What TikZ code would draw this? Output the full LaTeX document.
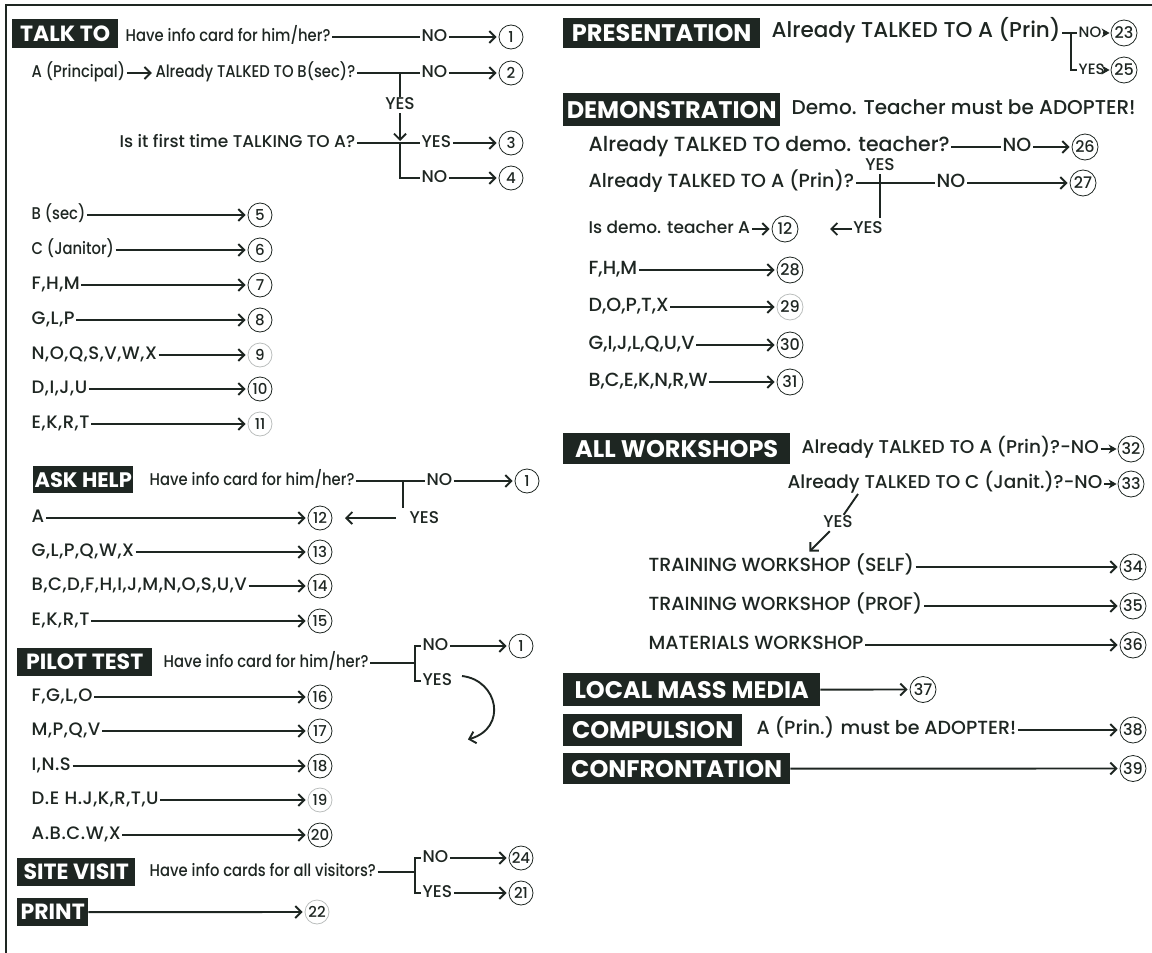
\documentclass[tikz,border=0pt]{standalone}
\usepackage{fontspec}
\setmainfont{Poppins}[UprightFont={* Medium}, BoldFont={* Bold}]
\newfontfamily\condf{Poppins}[UprightFont={* Medium}, FakeStretch=0.87]
\newfontfamily\lstf{Poppins}[UprightFont={* Medium}, LetterSpace=3]
\usetikzlibrary{arrows.meta}
\definecolor{ink}{RGB}{30,38,34}
\newcommand\fsQ{\condf\fontsize{17}{17}\selectfont}
\newcommand\fsL{\fontsize{17}{17}\selectfont}
\newcommand\fsLs{\lstf\fontsize{18}{18}\selectfont}
\newcommand\fsR{\fontsize{19}{19}\selectfont}
\newcommand\fsN{\fontsize{15}{15}\selectfont}
\newcommand\fsNR{\fontsize{16}{16}\selectfont}
\newcommand\fsHL{\fontsize{22}{22}\selectfont\bfseries}
\newcommand\fsHR{\fontsize{24}{24}\selectfont\bfseries}
\begin{document}
\begin{tikzpicture}[x=1pt,y=-1pt,
  txt/.style={anchor=west, inner xsep=1.5pt, inner ysep=0pt, text height=12pt, text depth=4pt, text=ink, font=\fsQ},
  lab/.style={txt, font=\fsL},
  lst/.style={txt, font=\fsLs},
  rtx/.style={anchor=west, inner xsep=1.5pt, inner ysep=0pt, text height=13pt, text depth=4pt, text=ink, font=\fsR},
  num/.style={circle, draw=ink, line width=0.8pt, minimum size=24pt, inner sep=0pt, text=ink, font=\fsN},
  numfaint/.style={num, draw=ink!30},
  numR/.style={num, minimum size=26pt, font=\fsNR},
  numRfaint/.style={numR, draw=ink!30},
  hdrL/.style={fill=ink, text=white, font=\fsHL, inner sep=0pt, anchor=north west},
  hdrR/.style={fill=ink, text=white, font=\fsHR, inner sep=0pt, anchor=north west},
  ln/.style={draw=ink, line width=1.9pt},
  arr/.style={ln, shorten >=2pt, -{Straight Barb[length=6pt,width=12pt]}},
  farr/.style={ln, shorten >=1pt, -{Stealth[length=8pt,width=9pt]}}
]
\useasboundingbox (0,0) rectangle (1152,953);
\draw[ink, line width=2.8pt] (6,953) -- (6,5) -- (1152,5);

% ---------------- TALK TO ----------------
\node[hdrL, minimum width=106pt, minimum height=29pt] (hTalk) at (12,19) {TALK TO};
\node[txt] (tq1) at (124,37) {Have info card for him/her?};
\node[lab] (tno1) at (420,37) {NO};
\node[num] (n1a) at (511,37) {1};
\draw[ln] (tq1) -- (tno1);
\draw[arr] (tno1) -- (n1a);

\node[txt] (tA) at (30,73) {A (Principal)};
\node[txt] (tq2) at ([xshift=27pt]tA.east) {Already TALKED TO B(sec)?};
\draw[arr] (tA) -- (tq2);
\coordinate (j2) at (400,73);
\node[lab] (tno2) at (420,73) {NO};
\node[num] (n2) at (511,73) {2};
\draw[ln] (tq2) -- (tno2);
\draw[arr] (tno2) -- (n2);
\node[lab, anchor=center] (tyes2) at (400,105) {YES};
\coordinate (j3) at (400,143);
\draw[ln] (j2) -- (tyes2);
\draw[arr] (tyes2) -- (j3);

\node[lab] (tq3) at (118,143) {Is it first time TALKING TO A?};
\node[lab] (tyes3) at (420,143) {YES};
\node[num] (n3) at (511,143) {3};
\draw[ln] (tq3) -- (tyes3);
\draw[arr] (tyes3) -- (n3);
\node[lab] (tno4) at (420,178) {NO};
\node[num] (n4) at (511,178) {4};
\draw[ln] (j3) |- (tno4);
\draw[arr] (tno4) -- (n4);

\foreach \t/\n/\y/\s/\f [count=\i] in {{B (sec)}/5/215/num/txt, {C (Janitor)}/6/250/num/txt, {F,H,M}/7/285/num/lst, {G,L,P}/8/320/num/lst, {N,O,Q,S,V,W,X}/9/355/numfaint/lst, {D,I,J,U}/10/389/num/lst, {E,K,R,T}/11/424/numfaint/lst}{
  \node[\f] (ta\i) at (30,\y) {\t};
  \node[\s] (ca\i) at (260,\y) {\n};
  \draw[arr] (ta\i) -- (ca\i);
}

% ---------------- ASK HELP ----------------
\node[hdrL, font=\fontsize{21}{21}\selectfont\bfseries, minimum width=100pt, minimum height=27pt] (hAsk) at (33,466) {ASK HELP};
\node[txt] (aq) at (148,481) {Have info card for him/her?};
\coordinate (aj) at (403,481);
\node[lab] (ano) at (425,481) {NO};
\node[num] (an1) at (527,481) {1};
\draw[ln] (aq) -- (ano);
\draw[arr] (ano) -- (an1);
\coordinate (ajb) at (403,508);
\draw[ln] (aj) -- (ajb);
\node[lab] (ayes) at (408,519) {YES};
\coordinate (aarr) at (396,518);
\coordinate (atip) at (343,518);
\draw[arr] (aarr) -- (atip);

\foreach \t/\n/\y [count=\i] in {A/12/518, {G,L,P,Q,W,X}/13/552, {B,C,D,F,H,I,J,M,N,O,S,U,V}/14/586, {E,K,R,T}/15/621}{
  \node[lst] (tb\i) at (30,\y) {\t};
  \node[num] (cb\i) at (320,\y) {\n};
  \draw[arr] (tb\i) -- (cb\i);
}

% ---------------- PILOT TEST ----------------
\node[hdrL, minimum width=135pt, minimum height=28pt] (hPilot) at (17,648) {PILOT TEST};
\node[txt] (pq) at (162,663) {Have info card for him/her?};
\coordinate (pb) at (415,663);
\node[lab] (pno) at (421,646) {NO};
\node[lab] (pyes) at (421,681) {YES};
\node[num] (pn1) at (521,646) {1};
\draw[ln] (pq) -- (pb);
\draw[ln] (pno.west) -| (pb) |- (pyes.west);
\draw[arr] (pno) -- (pn1);
\coordinate (pcs) at (462,676);
\coordinate (pce) at (466,740);
\draw[arr] (pcs) .. controls (498,680) and (508,728) .. (pce);

\foreach \t/\n/\y/\s [count=\i] in {{F,G,L,O}/16/697/num, {M,P,Q,V}/17/731/num, {I,N.S}/18/766/num, {D.E H.J,K,R,T,U}/19/800/numfaint, {A.B.C.W,X}/20/835/num}{
  \node[lst] (tc\i) at (30,\y) {\t};
  \node[\s] (cc\i) at (320,\y) {\n};
  \draw[arr] (tc\i) -- (cc\i);
}

% ---------------- SITE VISIT ----------------
\node[hdrL, minimum width=118pt, minimum height=28pt] (hSite) at (17,858) {SITE VISIT};
\node[txt] (sq) at (148,872) {Have info cards for all visitors?};
\coordinate (sb) at (415,872);
\node[lab] (sno) at (421,858) {NO};
\node[lab] (syes) at (421,893) {YES};
\node[num] (n24) at (521,858) {24};
\node[num] (n21) at (521,893) {21};
\draw[ln] (sq) -- (sb);
\draw[ln] (sno.west) -| (sb) |- (syes.west);
\draw[arr] (sno) -- (n24);
\draw[arr] (syes) -- (n21);

% ---------------- PRINT ----------------
\node[hdrL, minimum width=71pt, minimum height=28pt] (hPrint) at (17,898) {PRINT};
\node[numfaint] (n22) at (317,912) {22};
\draw[arr] (hPrint) -- (n22);

% ---------------- PRESENTATION ----------------
\node[hdrR, minimum width=197pt, minimum height=30pt] (hPres) at (563,18) {PRESENTATION};
\node[rtx, font=\fontsize{21.5}{21.5}\selectfont] (pr1) at (770,33) {Already TALKED TO A (Prin)};
\coordinate (prj) at (1071,33);
\node[txt, font=\fontsize{15}{15}\selectfont] (prno) at (1077,33) {NO};
\node[txt, font=\fontsize{15}{15}\selectfont] (pryes) at (1077,70) {YES};
\node[numR] (n23) at (1124,33) {23};
\node[numR] (n25) at (1124,70) {25};
\draw[ln] (pr1) -- (prno);
\draw[ln] (prj) |- (pryes);
\draw[farr] (prno) -- (n23);
\draw[farr] (pryes) -- (n25);

% ---------------- DEMONSTRATION ----------------
\node[hdrR, minimum width=217pt, minimum height=33pt] (hDemo) at (563,93) {DEMONSTRATION};
\node[rtx, font=\fontsize{20}{20}\selectfont] (dnote) at (790,110) {Demo. Teacher must be ADOPTER!};
\node[rtx, font=\fontsize{20.5}{20.5}\selectfont] (d26) at (587,147) {Already TALKED TO demo. teacher?};
\node[rtx] (dno26) at (1001,147) {NO};
\node[numR] (n26) at (1085,147) {26};
\draw[ln] (d26) -- (dno26);
\draw[arr] (dno26) -- (n26);
\node[rtx] (d27) at (587,183) {Already TALKED TO A (Prin)?};
\node[rtx] (dno27) at (935,183) {NO};
\node[numR] (n27) at (1083,183) {27};
\draw[ln] (d27) -- (dno27);
\draw[arr] (dno27) -- (n27);
\node[lab, anchor=center] (dyesT) at (880,166) {YES};
\coordinate (djb) at (880,218);
\draw[ln] (dyesT) -- (djb);
\node[rtx, font=\fontsize{17}{17}\selectfont] (d12) at (587,229) {Is demo. teacher A};
\node[numR] (n12d) at (785,229) {12};
\draw[arr] (d12) -- (n12d);
\node[lab, anchor=center] (dyesB) at (868,229) {YES};
\coordinate (dtip) at (828,229);
\draw[arr] (dyesB) -- (dtip);

\foreach \t/\n/\y/\s [count=\i] in {{F,H,M}/28/270/numR, {D,O,P,T,X}/29/307/numRfaint, {G,I,J,L,Q,U,V}/30/345/numR, {B,C,E,K,N,R,W}/31/382/numR}{
  \node[rtx] (td\i) at (587,\y) {\t};
  \node[\s] (cd\i) at (790,\y) {\n};
  \draw[arr] (td\i) -- (cd\i);
}

% ---------------- ALL WORKSHOPS ----------------
\node[hdrR, minimum width=227pt, minimum height=31pt] (hAll) at (563,433) {ALL WORKSHOPS};
\node[rtx, font=\fontsize{18.5}{18.5}\selectfont] (w1) at (800,449) {Already TALKED TO A (Prin)?-NO};
\node[numR] (n32) at (1131,449) {32};
\draw[farr] (w1) -- (n32);
\node[rtx, font=\fontsize{18.5}{18.5}\selectfont, anchor=east] (w2) at (1104,484) {Already TALKED TO C (Janit.)?-NO};
\node[numR] (n33) at (1131,484) {33};
\draw[farr] (w2) -- (n33);
\coordinate (wd1) at (858,494);
\node[lab, anchor=center] (wy) at (838,523) {YES};
\coordinate (wd2) at (808,553);
\draw[ln] (wd1) -- (wy);
\draw[arr] (wy) -- (wd2);

\node[rtx] (tw1) at (647,567) {TRAINING WORKSHOP (SELF)};
\node[numR] (n34) at (1133,567) {34};
\draw[arr] (tw1) -- (n34);
\node[rtx] (tw2) at (647,606) {TRAINING WORKSHOP (PROF)};
\node[numR] (n35) at (1133,606) {35};
\draw[arr] (tw2) -- (n35);
\node[rtx] (tw3) at (647,645) {MATERIALS WORKSHOP};
\node[numR] (n36) at (1133,645) {36};
\draw[arr] (tw3) -- (n36);

% ---------------- LOCAL MASS MEDIA / COMPULSION / CONFRONTATION ----------------
\node[hdrR, minimum width=257pt, minimum height=33pt] (hLmm) at (563,673) {LOCAL MASS MEDIA};
\node[numR] (n37) at (923,689.5) {37};
\draw[arr] (hLmm) -- (n37);
\node[hdrR, minimum width=179pt, minimum height=32pt] (hComp) at (563,714) {COMPULSION};
\node[rtx] (cq) at (755,730) {A (Prin.) must be ADOPTER!};
\node[numR] (n38) at (1133,730) {38};
\draw[arr] (cq) -- (n38);
\node[hdrR, minimum width=227pt, minimum height=31pt] (hConf) at (563,753) {CONFRONTATION};
\node[numR] (n39) at (1133,768.5) {39};
\draw[arr] (hConf) -- (n39);
\end{tikzpicture}
\end{document}
